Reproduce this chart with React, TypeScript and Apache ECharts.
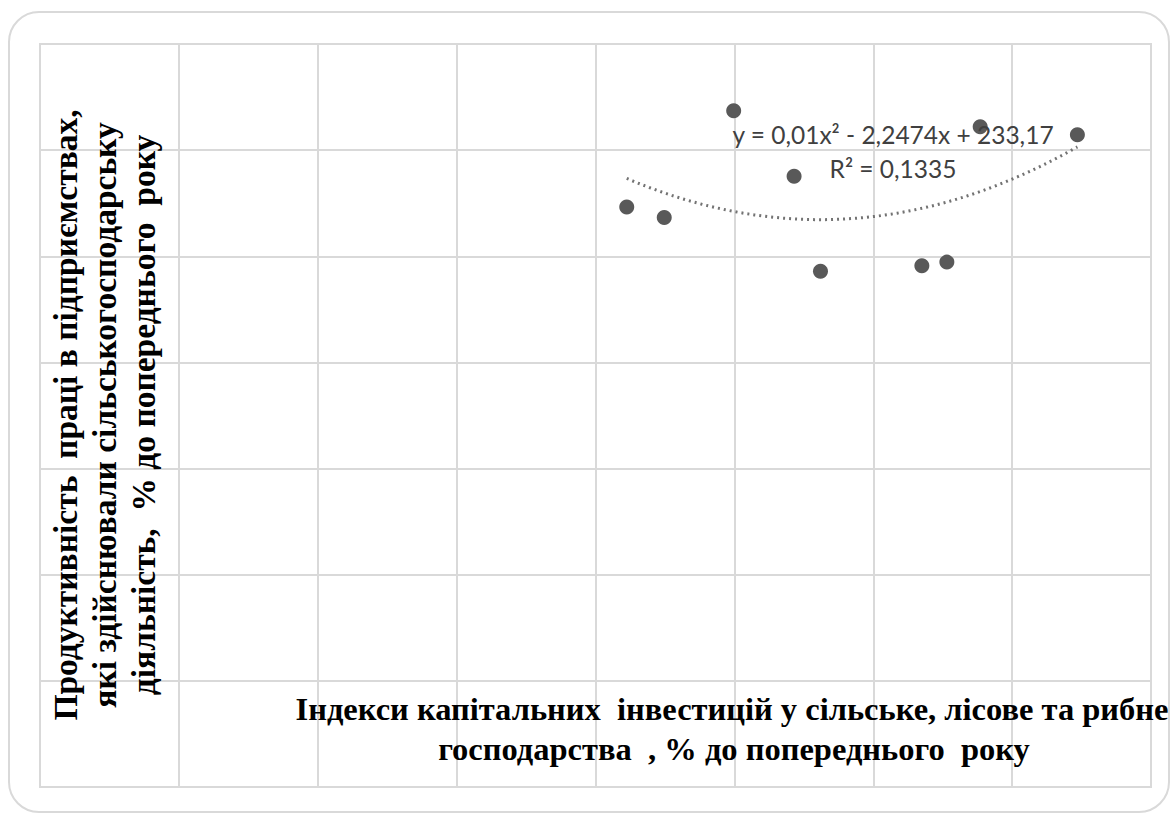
import React, { useEffect, useRef } from "react";
import * as echarts from "echarts";

// Scatter points: investment index (x), labour productivity index (y)
const investIndex = [84.5, 89.9, 99.9, 108.6, 112.4, 127.0, 130.6, 135.4, 149.4];
const productivityIndex = [109.3, 107.3, 127.4, 115.1, 97.2, 98.2, 98.9, 124.4, 122.9];

// Polynomial trendline coefficients shown on the chart: y = a x^2 + b x + c
const trendA = 0.01;
const trendB = -2.2474;
const trendC = 233.17;
const trendSteps = 60;

const equationText = "y = 0,01x² - 2,2474x + 233,17";
const r2Text = "R² = 0,1335";
const yTitleLines = [
  "Продуктивність  праці в підприємствах,",
  "які здійснювали сільськогосподарську",
  "діяльність,  % до попереднього  року",
];
const xTitleLines = [
  "Індекси капітальних  інвестицій у сільське, лісове та рибне",
  "господарства  , % до попереднього  року",
];

export default function App() {
  const ref = useRef<HTMLDivElement>(null);
  useEffect(() => {
    document.body.style.margin = "0";
    const chart = echarts.init(ref.current!, undefined, { renderer: "svg" });
    const xMin = Math.min(...investIndex);
    const xMax = Math.max(...investIndex);
    const trend: number[][] = [];
    for (let i = 0; i <= trendSteps; i++) {
      const x = xMin + ((xMax - xMin) * i) / trendSteps;
      trend.push([x, trendA * x * x + trendB * x + trendC]);
    }
    const titleStyle = (t: string, size: number) => ({
      text: t,
      fontFamily: "Liberation Serif, 'Times New Roman', serif",
      fontSize: size,
      fontWeight: "bold",
      fill: "#000000",
      align: "center",
      verticalAlign: "middle",
    });
    const eqStyle = (t: string) => ({
      text: t,
      fontFamily: "Lato",
      fontSize: 24.5,
      fill: "#404040",
      align: "center",
      verticalAlign: "middle",
    });
    chart.setOption({
      animation: false,
      backgroundColor: "#ffffff",
      grid: {
        left: 40,
        right: 19,
        top: 44,
        bottom: 27,
        show: true,
        borderColor: "#d9d9d9",
        borderWidth: 2,
      },
      xAxis: {
        type: "value",
        min: 0,
        max: 160,
        interval: 20,
        axisLabel: { show: false },
        axisTick: { show: false },
        axisLine: { show: false },
        splitLine: { show: true, lineStyle: { color: "#d9d9d9", width: 2 } },
      },
      yAxis: {
        type: "value",
        min: 0,
        max: 140,
        interval: 20,
        axisLabel: { show: false },
        axisTick: { show: false },
        axisLine: { show: false },
        splitLine: { show: true, lineStyle: { color: "#d9d9d9", width: 2 } },
      },
      series: [
        {
          type: "line",
          data: trend,
          showSymbol: false,
          smooth: false,
          lineStyle: { type: [2, 4], width: 3, color: "#737373" },
          z: 2,
        },
        {
          type: "scatter",
          data: investIndex.map((x, i) => [x, productivityIndex[i]]),
          symbolSize: 15,
          itemStyle: { color: "#595959", opacity: 1 },
          z: 3,
        },
      ],
      graphic: [
        {
          type: "rect",
          shape: { x: 9, y: 12, width: 1160, height: 800, r: 30 },
          style: { fill: "none", stroke: "#d9d9d9", lineWidth: 2 },
          silent: true,
          z: 0,
        },
        { type: "text", x: 893, y: 134, style: eqStyle(equationText), z: 10 },
        { type: "text", x: 893, y: 168, style: eqStyle(r2Text), z: 10 },
        ...yTitleLines.map((t, i) => ({
          type: "text",
          x: [65, 104, 143][i],
          y: 415,
          rotation: Math.PI / 2,
          style: titleStyle(t, 33.5),
          z: 10,
        })),
        ...xTitleLines.map((t, i) => ({
          type: "text",
          x: [732, 734][i],
          y: [709, 749][i],
          style: titleStyle(t, 32.5),
          z: 10,
        })),
      ],
    });
    return () => chart.dispose();
  }, []);
  return <div ref={ref} style={{ width: 1170, height: 814 }} />;
}
